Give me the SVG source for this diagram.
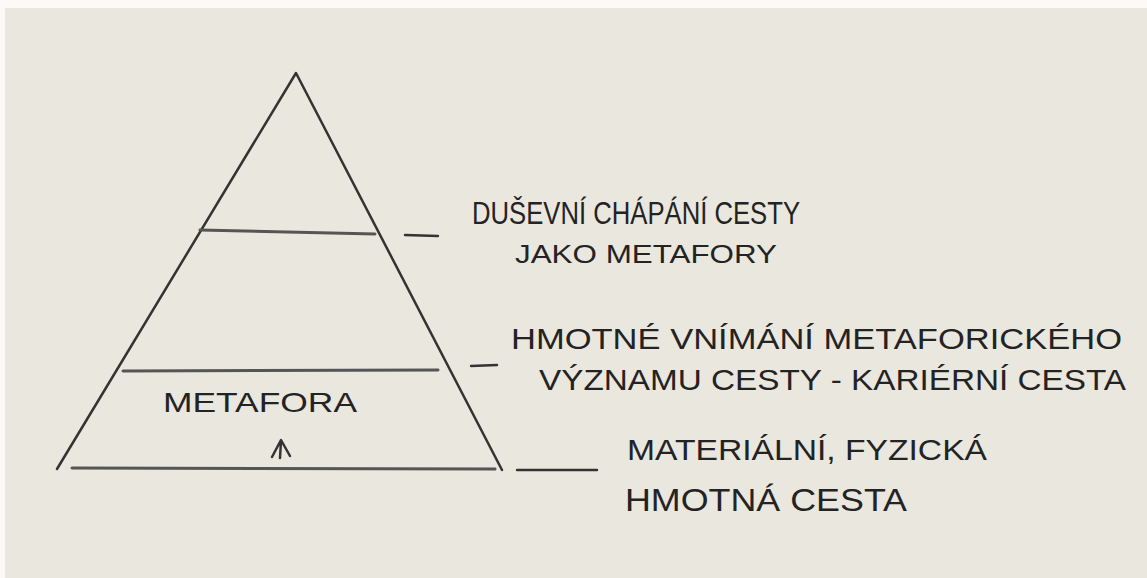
<svg xmlns="http://www.w3.org/2000/svg" width="1147" height="578" viewBox="0 0 1147 578">
<style>
.pencil{fill:none;stroke:#333;stroke-width:2.5;stroke-linecap:round;stroke-linejoin:round}
.level{fill:none;stroke:#555;stroke-width:3;stroke-linecap:round}
.dash{fill:none;stroke:#333;stroke-width:2.4;stroke-linecap:round}
.hand{font-family:"Liberation Sans","DejaVu Sans",sans-serif;fill:#232323;font-weight:normal}
</style>
<rect x="0" y="0" width="1147" height="578" fill="#fbfaf7"/>
<rect x="5" y="8" width="1142" height="570" fill="#eae7df"/>
<g id="pyramid">
<path class="pencil" d="M57,469 L296,73 L502,470"/>
</g>
<g id="level-top">
<path class="level" d="M200,230 L375,234"/>
</g>
<g id="level-middle">
<path class="level" d="M123,371 L438,370"/>
<text class="hand" x="163" y="412" font-size="28" textLength="194" lengthAdjust="spacingAndGlyphs">METAFORA</text>
<path class="pencil" d="M272,457 L281,440 L290,456 M281,441 L280,458"/>
</g>
<g id="level-base">
<path class="level" d="M72,468 L495,469"/>
</g>
<g id="connectors">
<path class="dash" d="M405,235 L438,236"/>
<path class="dash" d="M471,366 L497,365"/>
<path class="dash" d="M517,470 L597,470"/>
</g>
<g id="label-top">
<text class="hand" x="472" y="224" font-size="32" textLength="328" lengthAdjust="spacingAndGlyphs">DUŠEVNÍ CHÁPÁNÍ CESTY</text>
<text class="hand" x="515" y="263" font-size="26" textLength="262" lengthAdjust="spacingAndGlyphs">JAKO METAFORY</text>
</g>
<g id="label-middle">
<text class="hand" x="511" y="349" font-size="29" textLength="611" lengthAdjust="spacingAndGlyphs">HMOTNÉ VNÍMÁNÍ METAFORICKÉHO</text>
<text class="hand" x="539" y="390" font-size="30" textLength="587" lengthAdjust="spacingAndGlyphs">VÝZNAMU CESTY - KARIÉRNÍ CESTA</text>
</g>
<g id="label-base">
<text class="hand" x="627" y="460" font-size="30" textLength="360" lengthAdjust="spacingAndGlyphs">MATERIÁLNÍ, FYZICKÁ</text>
<text class="hand" x="625" y="511" font-size="32" textLength="282" lengthAdjust="spacingAndGlyphs">HMOTNÁ CESTA</text>
</g>
</svg>
